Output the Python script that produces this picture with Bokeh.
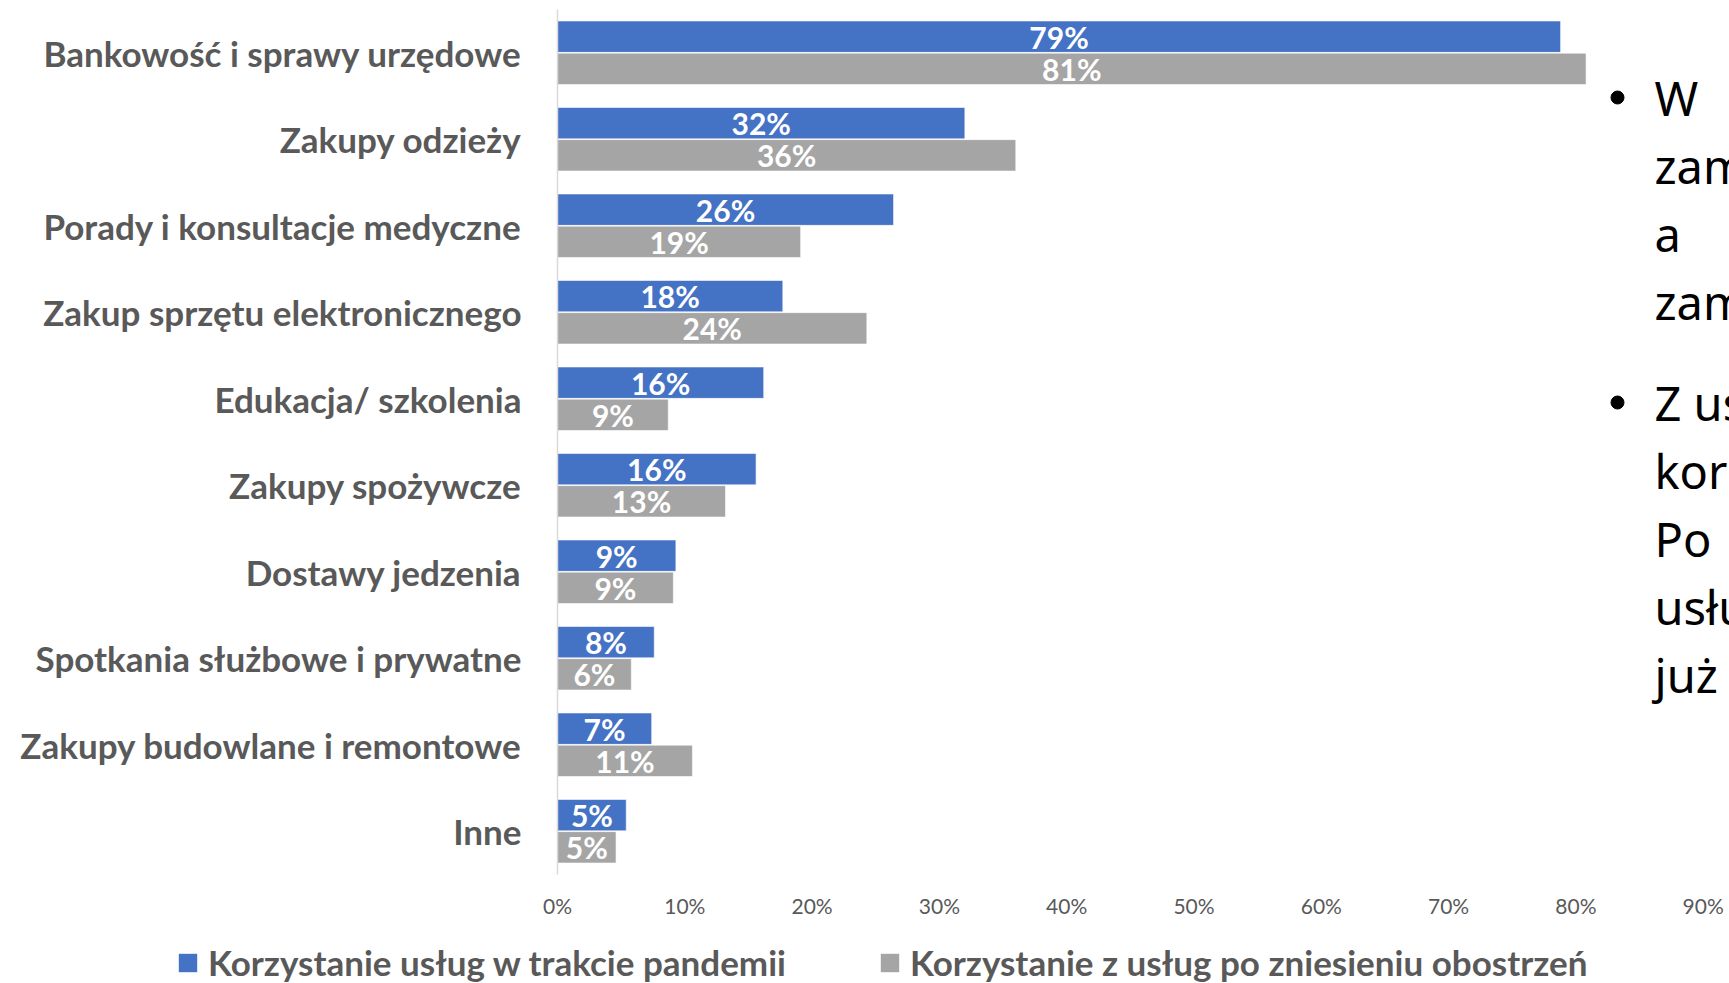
from bokeh.plotting import figure
from bokeh.layouts import column
from bokeh.models import (Range1d, ColumnDataSource, FixedTicker,
                          NumeralTickFormatter, Legend, LegendItem)
from bokeh.core.properties import value
from bokeh.embed import file_html
from bokeh.resources import INLINE

# ---------------- data ----------------
categories = ["Bankowość i sprawy urzędowe", "Zakupy odzieży",
              "Porady i konsultacje medyczne", "Zakup sprzętu elektronicznego",
              "Edukacja/ szkolenia", "Zakupy spożywcze", "Dostawy jedzenia",
              "Spotkania służbowe i prywatne", "Zakupy budowlane i remontowe", "Inne"]
pandemic = [0.788, 0.320, 0.264, 0.177, 0.162, 0.156, 0.093, 0.076, 0.074, 0.054]
after = [0.808, 0.360, 0.191, 0.243, 0.087, 0.132, 0.091, 0.058, 0.106, 0.046]
series_names = ["Korzystanie usług w trakcie pandemii",
                "Korzystanie z usług po zniesieniu obostrzeń"]
x_ticks = [0.0, 0.1, 0.2, 0.3, 0.4, 0.5, 0.6, 0.7, 0.8, 0.9]
side_lines_1 = ["W", "zam", "a", "zam"]
side_lines_2 = ["Z us", "kor", "Po", "usłu", "już"]

BLUE = "#4472C4"
GREY = "#A5A5A5"
TXT = "#595959"
FONT = "Lato"

W, H, LEG_H = 1729, 945, 38
LEFT, TOP, BOTTOM = 557, 9, 71
frame_w = W - LEFT
px_per_unit = 1273.0  # px per 100%
x_end = frame_w / px_per_unit

n = len(categories)
ypos = [n - 1 - i for i in range(n)]  # first category on top

p = figure(width=W, height=H, y_range=Range1d(-0.5, n - 0.5),
           x_range=Range1d(0, x_end), output_backend="svg", toolbar_location=None,
           min_border_left=LEFT, min_border_right=0, min_border_top=TOP,
           min_border_bottom=BOTTOM)
p.frame_align = False
p.outline_line_color = None
p.xgrid.grid_line_color = None
p.ygrid.grid_line_color = None
p.background_fill_color = "white"

off = 0.186
bh = 0.363
src = ColumnDataSource(dict(
    ya=[y + off for y in ypos], yb=[y - off for y in ypos],
    a=pandemic, b=after,
    a_mid=[v / 2 for v in pandemic], b_mid=[v / 2 for v in after],
    a_lab=[f"{round(v * 100)}%" for v in pandemic],
    b_lab=[f"{round(v * 100)}%" for v in after],
))

p.hbar(y="ya", right="a", left=0, height=bh,
       source=src, fill_color=BLUE, line_color="white", line_width=0.6)
p.hbar(y="yb", right="b", left=0, height=bh,
       source=src, fill_color=GREY, line_color="white", line_width=0.6)

for xcol, ycol, lab in (("a_mid", "ya", "a_lab"), ("b_mid", "yb", "b_lab")):
    p.text(x=xcol, y=ycol, text=lab, source=src,
           text_color="white", text_font=value(FONT), text_font_style="bold",
           text_font_size="30px", text_align="center", text_baseline="middle")

# axes
p.yaxis.ticker = FixedTicker(ticks=ypos)
p.yaxis.major_label_overrides = {y: c for y, c in zip(ypos, categories)}
p.yaxis.axis_line_color = "#D9D9D9"
p.yaxis.axis_line_width = 1.5
p.yaxis.major_tick_line_color = None
p.yaxis.minor_tick_line_color = None
p.yaxis.major_label_text_font = FONT
p.yaxis.major_label_text_font_style = "bold"
p.yaxis.major_label_text_font_size = "35px"
p.yaxis.major_label_text_color = TXT
p.yaxis.major_label_standoff = 30

p.xaxis.axis_line_color = None
p.xaxis.major_tick_line_color = None
p.xaxis.minor_tick_line_color = None
p.xaxis.ticker = FixedTicker(ticks=x_ticks)
p.xaxis.formatter = NumeralTickFormatter(format="0%")
p.xaxis.major_label_text_font = FONT
p.xaxis.major_label_text_font_size = "21px"
p.xaxis.major_label_text_color = TXT
p.xaxis.major_label_standoff = 12

# side text (cut-off slide text), placed in page pixel coordinates
p.extra_x_ranges = {"px": Range1d(LEFT, W)}
p.extra_y_ranges = {"px": Range1d(H - BOTTOM, TOP)}
ys1 = [97 + 68 * i for i in range(len(side_lines_1))]
ys2 = [402 + 68 * i for i in range(len(side_lines_2))]
p.text(x=[1654] * (len(ys1) + len(ys2)), y=ys1 + ys2, text=side_lines_1 + side_lines_2,
       x_range_name="px", y_range_name="px", text_font=value("Noto Sans"),
       text_font_size="47px", text_color="black", text_baseline="middle",
       text_align="left")
p.scatter(x=[1617, 1617], y=[ys1[0], ys2[0]], size=13, marker="circle",
          color="black", x_range_name="px", y_range_name="px")

# legend strip below the chart (its key renderers use the same data, out of view)
p2 = figure(width=W, height=LEG_H, x_range=Range1d(0, 1), y_range=Range1d(100, 101),
            output_backend="svg", toolbar_location=None, x_axis_location=None,
            y_axis_location=None, min_border=0, min_border_left=0,
            min_border_right=0, min_border_top=0, min_border_bottom=0)
p2.frame_align = False
p2.outline_line_color = None
p2.xgrid.grid_line_color = None
p2.ygrid.grid_line_color = None
k1 = p2.hbar(y="ya", right="a", left=0, height=bh, source=src,
             fill_color=BLUE, line_color=None)
k2 = p2.hbar(y="yb", right="b", left=0, height=bh, source=src,
             fill_color=GREY, line_color=None)
lg = Legend(items=[LegendItem(label=series_names[0], renderers=[k1]),
                   LegendItem(label=series_names[1], renderers=[k2])],
            location=(176, 0), orientation="horizontal", border_line_color=None,
            background_fill_alpha=0, padding=0, margin=0, spacing=92,
            glyph_width=23, glyph_height=23, label_standoff=9,
            label_text_font=FONT, label_text_font_style="bold",
            label_text_font_size="35px", label_text_color=TXT)
p2.add_layout(lg, "center")

open("out.html", "w").write(file_html(column(p, p2, spacing=0), INLINE))
